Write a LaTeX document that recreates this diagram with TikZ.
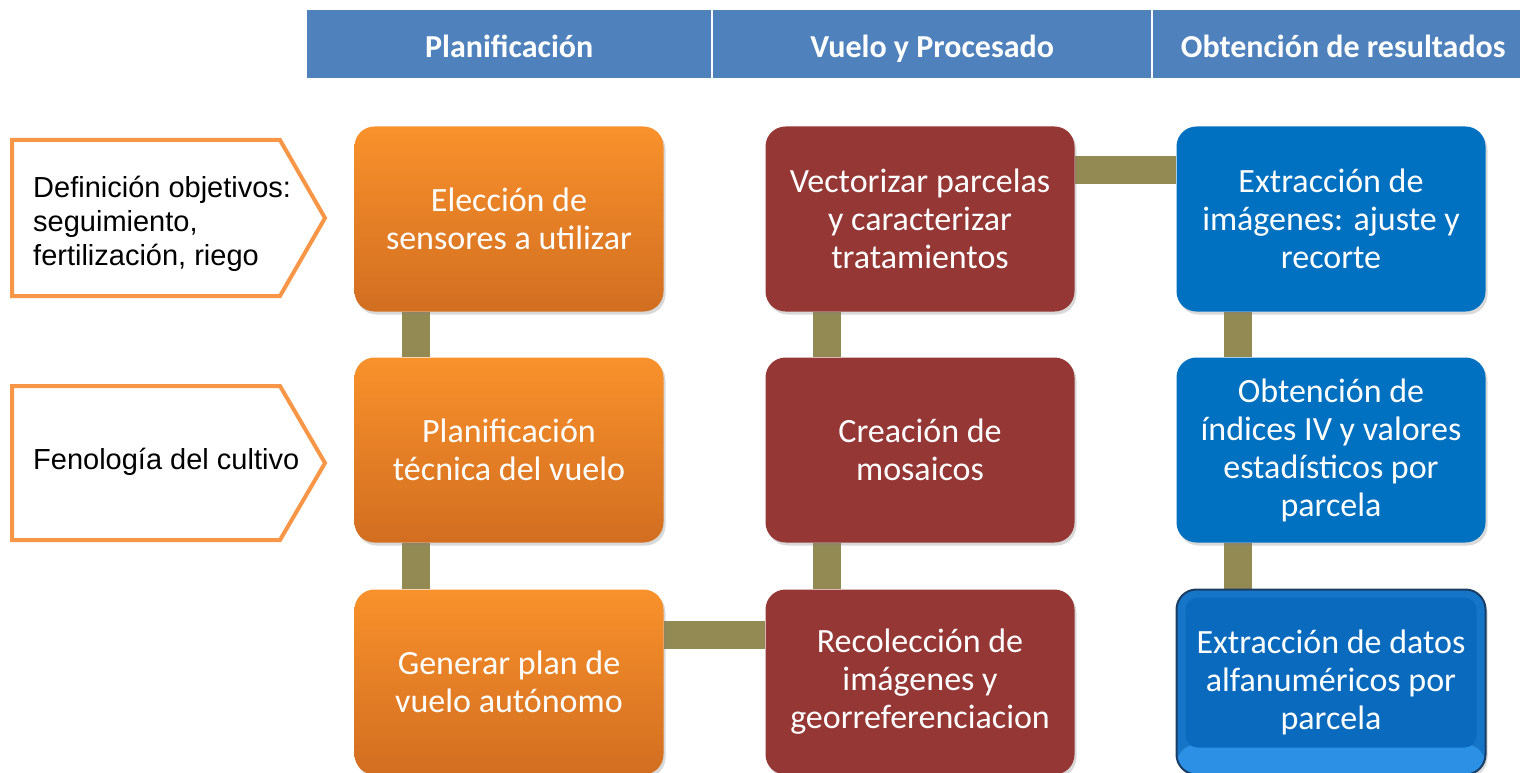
\documentclass[tikz,border=0pt]{standalone}
\usepackage{fontspec}
\setmainfont{Carlito}
\newfontfamily\arialf{Liberation Sans}
\usetikzlibrary{shadows,backgrounds}
\definecolor{hdr}{HTML}{4F81BD}
\definecolor{orT}{HTML}{F9912B}
\definecolor{orB}{HTML}{D26E21}
\definecolor{redb}{HTML}{953735}
\definecolor{blueb}{HTML}{0070C0}
\definecolor{glossbevel}{HTML}{1675C6}
\definecolor{glossin}{HTML}{0A6BBE}
\definecolor{glossedge}{HTML}{1A3D66}
\definecolor{glosshi}{HTML}{2C90E4}
\definecolor{conn}{HTML}{938953}
\definecolor{penta}{HTML}{F79646}
\begin{document}
\begin{tikzpicture}[x=1pt,y=-1pt,
  hdrbox/.style={fill=hdr, minimum height=68pt, inner sep=0pt, text=white,
    text height=30pt, text depth=4pt,
    font=\fontsize{32}{36}\selectfont\bfseries, anchor=north west},
  box/.style={rounded corners=20pt, minimum width=309pt, minimum height=185pt,
    inner sep=0pt, text=white, align=center, font=\fontsize{34}{38}\selectfont,
    drop shadow={opacity=0.3, shadow xshift=2pt, shadow yshift=-3pt}},
  obox/.style={box, top color=orT, bottom color=orB},
  rbox/.style={box, fill=redb},
  bbox/.style={box, fill=blueb},
  glossy/.style={box, fill=glossbevel, draw=glossedge, line width=2pt,
    path picture={
      \fill[glosshi] (path picture bounding box.south west) rectangle
        ([yshift=30pt]path picture bounding box.south east);
      \fill[glossin, rounded corners=12pt]
        ([xshift=9pt,yshift=-8pt]path picture bounding box.north west) rectangle
        ([xshift=-9pt,yshift=27pt]path picture bounding box.south east);
    }},
  link/.style={draw=conn, line width=28pt},
  sidetext/.style={anchor=west, align=left, inner sep=0pt,
    font=\arialf\fontsize{29}{34}\selectfont},
  pent/.style={draw=penta, line width=4pt, fill=white, line join=miter}
]
\useasboundingbox (0,0) rectangle (1520,773);

% header
\node[hdrbox, minimum width=404pt] (h1) at (307,10) {Planificación};
\node[hdrbox, minimum width=438pt] (h2) at (713,10) {Vuelo y Procesado};
\node[hdrbox, minimum width=380pt] (h3) at (1153,10) {Obtención de resultados};

% side pentagons
\draw[pent] (12,140) -- (280,140) -- (325,218) -- (280,296) -- (12,296) -- cycle;
\draw[pent] (12,386) -- (280,386) -- (325,463) -- (280,540) -- (12,540) -- cycle;
\node[sidetext] (def) at (33,224) {Definición objetivos:\\seguimiento,\\fertilización, riego};
\node[sidetext] (fen) at (33,462) {Fenología del cultivo};

% boxes
\node[obox] (o1) at (509,219) {Elección de\\sensores a utilizar};
\node[obox] (o2) at (509,450) {Planificación\\técnica del vuelo};
\node[obox] (o3) at (509,682) {Generar plan de\\vuelo autónomo};
\node[rbox] (r1) at (920,219) {Vectorizar parcelas\\y caracterizar\\tratamientos};
\node[rbox] (r2) at (920,450) {Creación de\\mosaicos};
\node[rbox] (r3) at (920,682) {Recolección de\\imágenes y\\georreferenciacion};
\node[bbox] (b1) at (1331,219) {Extracción de\\imágenes: ajuste y\\recorte};
\node[bbox] (b2) at (1331,450) {Obtención de\\índices IV y valores\\estadísticos por\\parcela};
\node[glossy] (b3) at (1331,682) {Extracción de datos\\alfanuméricos por\\parcela};

% connectors
\begin{scope}[on background layer]
\draw[link] ([xshift=62pt]o1.south west) -- ([xshift=62pt]o2.north west);
\draw[link] ([xshift=62pt]o2.south west) -- ([xshift=62pt]o3.north west);
\draw[link] ([xshift=62pt]r1.south west) -- ([xshift=62pt]r2.north west);
\draw[link] ([xshift=62pt]r2.south west) -- ([xshift=62pt]r3.north west);
\draw[link] ([xshift=62pt]b1.south west) -- ([xshift=62pt]b2.north west);
\draw[link] ([xshift=62pt]b2.south west) -- ([xshift=62pt]b2.south west |- b3.north);
\draw[link] ([yshift=-46pt]o3.north east) -- ([yshift=-46pt]r3.north west);
\draw[link] ([yshift=-44pt]r1.north east) -- ([yshift=-44pt]b1.north west);
\end{scope}
\end{tikzpicture}
\end{document}
